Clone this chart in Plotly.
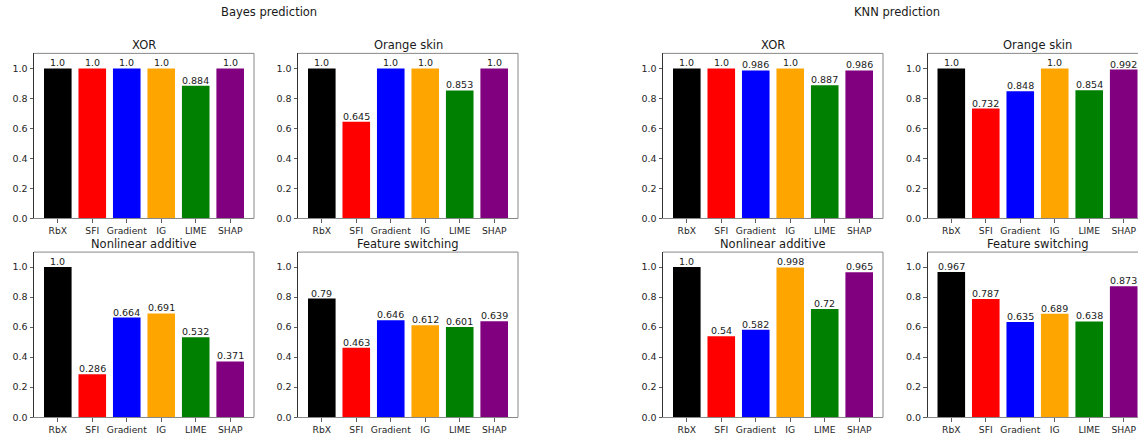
import plotly.graph_objects as go

methods = ["RbX", "SFI", "Gradient", "IG", "LIME", "SHAP"]
colors = ["black", "red", "blue", "orange", "green", "purple"]

bayes_xor = [1.0, 1.0, 1.0, 1.0, 0.884, 1.0]
bayes_orange = [1.0, 0.645, 1.0, 1.0, 0.853, 1.0]
bayes_nonlin = [1.0, 0.286, 0.664, 0.691, 0.532, 0.371]
bayes_switch = [0.79, 0.463, 0.646, 0.612, 0.601, 0.639]
knn_xor = [1.0, 1.0, 0.986, 1.0, 0.887, 0.986]
knn_orange = [1.0, 0.732, 0.848, 1.0, 0.854, 0.992]
knn_nonlin = [1.0, 0.54, 0.582, 0.998, 0.72, 0.965]
knn_switch = [0.967, 0.787, 0.635, 0.689, 0.638, 0.873]

panel_titles = ["XOR", "Orange skin", "Nonlinear additive", "Feature switching"]
group_titles = ["Bayes prediction", "KNN prediction"]

W, H = 1138, 438
FONT = "DejaVu Sans"

col_left = [34, 298, 663, 927.5]
panel_w = 220
row_top = [54, 255]
panel_h = 167

panels = [
    (bayes_xor, 0, 0, panel_titles[0]),
    (bayes_orange, 0, 1, panel_titles[1]),
    (bayes_nonlin, 1, 0, panel_titles[2]),
    (bayes_switch, 1, 1, panel_titles[3]),
    (knn_xor, 0, 2, panel_titles[0]),
    (knn_orange, 0, 3, panel_titles[1]),
    (knn_nonlin, 1, 2, panel_titles[2]),
    (knn_switch, 1, 3, panel_titles[3]),
]

fig = go.Figure()
annotations = []
layout = {}
xr0, xr1 = -0.69, 5.69

for i, (vals, r, c, title) in enumerate(panels):
    n = i + 1
    xa = "x" if n == 1 else f"x{n}"
    ya = "y" if n == 1 else f"y{n}"
    fig.add_trace(go.Bar(
        x=methods, y=vals, marker=dict(color=colors, line=dict(width=0)),
        width=0.8, xaxis=xa, yaxis=ya, showlegend=False, hoverinfo="skip"))
    x0 = col_left[c]
    x1 = x0 + panel_w
    rng_hi = xr1
    mirror = True
    if x1 > W:
        rng_hi = xr0 + (W - x0) / panel_w * (xr1 - xr0)
        x1 = W
        mirror = False
    y_top = row_top[r]
    y_bot = y_top + panel_h
    xkey = "xaxis" if n == 1 else f"xaxis{n}"
    ykey = "yaxis" if n == 1 else f"yaxis{n}"
    layout[xkey] = dict(
        domain=[x0 / W, x1 / W], anchor=ya, range=[xr0, rng_hi],
        showline=True, linecolor="#888888", linewidth=1, mirror=False,
        ticks="outside", ticklen=3.5, tickcolor="#333333", tickwidth=0.8,
        showgrid=False, zeroline=False, fixedrange=True,
        tickfont=dict(family=FONT, size=9.2, color="#262626"),
        type="category", categoryorder="array", categoryarray=methods)
    layout[ykey] = dict(
        domain=[(H - y_bot) / H, (H - y_top) / H], anchor=xa, range=[0, 1.1],
        showline=True, linecolor="#333333", linewidth=1, mirror=False,
        ticks="outside", ticklen=3.5, tickcolor="#333333", tickwidth=0.8,
        tickvals=[0, 0.2, 0.4, 0.6, 0.8, 1.0], tickformat=".1f",
        showgrid=False, zeroline=False, fixedrange=True,
        tickfont=dict(family=FONT, size=9.5, color="#262626"))
    fig.add_shape(type="line", xref="paper", yref="paper",
                  x0=x0 / W, x1=x1 / W, y0=(H - y_top) / H, y1=(H - y_top) / H,
                  line=dict(color="#888888", width=1))
    if mirror:
        fig.add_shape(type="line", xref="paper", yref="paper",
                      x0=x1 / W, x1=x1 / W, y0=(H - y_bot) / H, y1=(H - y_top) / H,
                      line=dict(color="#888888", width=1))
    annotations.append(dict(
        text=title, xref="paper", yref="paper",
        x=(col_left[c] + panel_w / 2) / W, y=(H - y_top) / H, yshift=-1,
        xanchor="center", yanchor="bottom", showarrow=False,
        font=dict(family=FONT, size=11.5, color="#1a1a1a")))
    for m, v in zip(methods, vals):
        annotations.append(dict(
            text=str(v), x=m, y=v, xref=xa, yref=ya,
            xanchor="center", yanchor="bottom", showarrow=False, yshift=-2,
            font=dict(family=FONT, size=9.5, color="#1a1a1a")))

annotations.append(dict(text=group_titles[0], xref="paper", yref="paper",
                        x=269 / W, y=(H - 12) / H, xanchor="center", yanchor="middle",
                        showarrow=False, font=dict(family=FONT, size=11.5, color="#1a1a1a")))
annotations.append(dict(text=group_titles[1], xref="paper", yref="paper",
                        x=897 / W, y=(H - 12) / H, xanchor="center", yanchor="middle",
                        showarrow=False, font=dict(family=FONT, size=11.5, color="#1a1a1a")))

fig.update_layout(
    width=W, height=H, margin=dict(l=0, r=0, t=0, b=0),
    paper_bgcolor="white", plot_bgcolor="white", bargap=0.2,
    annotations=annotations, **layout)

fig.write_html("out.html", config={"displayModeBar": False, "staticPlot": True},
               post_script="document.body.style.margin='0px';document.body.style.overflow='hidden';")
